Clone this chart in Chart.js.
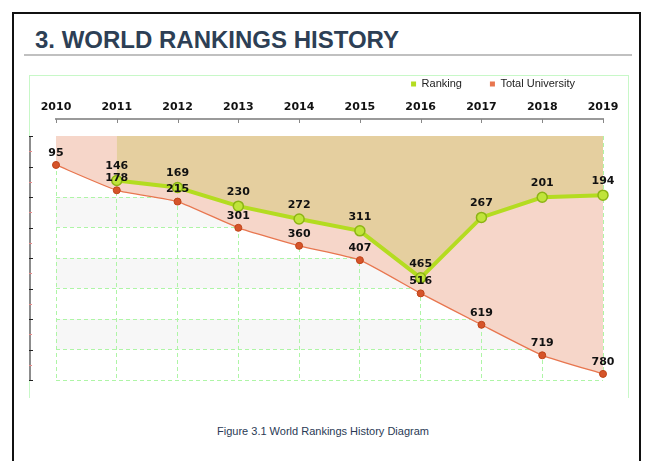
<!DOCTYPE html>
<html><head><meta charset="utf-8">
<script src="https://cdn.jsdelivr.net/npm/chart.js@4.4.1/dist/chart.umd.min.js"></script>
<style>
html,body{margin:0;padding:0;background:#fff;width:646px;height:461px;overflow:hidden;font-family:"Liberation Sans",Arial,sans-serif;}
#page{position:absolute;left:12px;top:12px;width:625px;height:480px;border:2px solid #111;}
#title{position:absolute;left:35px;top:28px;font:bold 24px/24px "Liberation Sans",Arial,sans-serif;color:#2d3f55;white-space:nowrap;}
#rule{position:absolute;left:24px;top:54px;width:608px;height:2px;background:#c0c0c0;}
#box{position:absolute;left:29px;top:75px;width:598px;height:322px;border:1px solid #c8f8c8;border-bottom:none;}
#box canvas{position:absolute;left:-2px;top:0;}
#caption{position:absolute;left:0;width:646px;top:424px;text-align:center;font:11px/14px "Liberation Sans",Arial,sans-serif;color:#2a3a55;}
</style>
</head><body>
<div id="page"></div>
<div id="title">3. WORLD RANKINGS HISTORY</div>
<div id="rule"></div>
<div id="box"><canvas id="c" width="600" height="322"></canvas></div>
<div id="caption">Figure 3.1 World Rankings History Diagram</div>
<script>
const years = ['2010','2011','2012','2013','2014','2015','2016','2017','2018','2019'];
const ranking = [null,146,169,230,272,311,465,267,201,194];
const totalUniversity = [95,178,215,301,360,407,516,619,719,780];
const yTicks = [0,100,200,300,400,500,600,700,800];

const gridGreen = '#aef5a6';
const labelFont = 'bold 11px "DejaVu Sans", sans-serif';

const bandsPlugin = {
  id: 'bands',
  beforeDraw(chart) {
    const {ctx, chartArea} = chart;
    const y = chart.scales.y;
    ctx.save();
    ctx.fillStyle = '#f7f7f7';
    for (let i = 0; i < yTicks.length - 1; i += 2) {
      const y1 = y.getPixelForValue(yTicks[i]);
      const y2 = y.getPixelForValue(yTicks[i + 1]);
      ctx.fillRect(chartArea.left, Math.min(y1, y2), chartArea.right - chartArea.left, Math.abs(y2 - y1));
    }
    ctx.restore();
  }
};

const axesPlugin = {
  id: 'axesDraw',
  afterDatasetsDraw(chart) {
    const {ctx, chartArea} = chart;
    const x = chart.scales.x, y = chart.scales.y;
    ctx.save();
    // top axis line
    const ay = chartArea.top - 17;
    const x0 = x.getPixelForValue(0), x1 = x.getPixelForValue(years.length - 1);
    ctx.strokeStyle = '#9a9a9a';
    ctx.lineWidth = 2;
    ctx.beginPath();
    ctx.moveTo(x0 - 1, ay); ctx.lineTo(x1 + 1, ay);
    ctx.stroke();
    ctx.lineWidth = 1;
    ctx.strokeStyle = '#888';
    years.forEach((_, i) => {
      const px = Math.round(x.getPixelForValue(i)) + 0.5;
      ctx.beginPath(); ctx.moveTo(px, ay); ctx.lineTo(px, ay + 4); ctx.stroke();
    });
    // left axis line
    const lx = chartArea.left - 26;
    const yTop = y.getPixelForValue(yTicks[0]);
    const yBot = y.getPixelForValue(yTicks[yTicks.length - 1]);
    ctx.strokeStyle = '#8c8c8c';
    ctx.lineWidth = 2;
    ctx.beginPath(); ctx.moveTo(lx, yTop); ctx.lineTo(lx, yBot); ctx.stroke();
    ctx.lineWidth = 1;
    yTicks.forEach((v, i) => {
      const py = Math.round(y.getPixelForValue(v)) + 0.5;
      ctx.strokeStyle = '#222';
      ctx.beginPath(); ctx.moveTo(lx - 1, py); ctx.lineTo(lx + 3, py); ctx.stroke();
      if (i < yTicks.length - 1) {
        const pm = Math.round(y.getPixelForValue(v + 50)) + 0.5;
        ctx.strokeStyle = '#e98a8a';
        ctx.beginPath(); ctx.moveTo(lx - 1, pm); ctx.lineTo(lx + 2, pm); ctx.stroke();
      }
    });
    ctx.restore();
  }
};

const labelsPlugin = {
  id: 'pointLabels',
  afterDatasetsDraw(chart) {
    const {ctx} = chart;
    ctx.save();
    ctx.font = labelFont;
    ctx.fillStyle = '#111';
    ctx.textAlign = 'center';
    ctx.textBaseline = 'middle';
    chart.data.datasets.forEach((ds, di) => {
      const meta = chart.getDatasetMeta(di);
      meta.data.forEach((el, i) => {
        const v = ds.data[i];
        if (v === null || v === undefined) return;
        ctx.fillText(String(v), el.x, el.y - (di === 0 ? 14 : 12));
      });
    });
    ctx.restore();
  }
};

new Chart(document.getElementById('c'), {
  type: 'line',
  data: {
    labels: years,
    datasets: [
      {
        label: 'Ranking',
        data: ranking,
        borderColor: '#b4dc20',
        borderWidth: 4,
        backgroundColor: '#e5cf9f',
        fill: {value: 0},
        tension: 0,
        pointRadius: 5,
        pointBackgroundColor: '#c0e43a',
        pointBorderColor: '#8cb414',
        pointBorderWidth: 1.5,
        legendColor: '#b4dc20'
      },
      {
        label: 'Total University',
        data: totalUniversity,
        borderColor: '#e8764f',
        borderWidth: 1.3,
        backgroundColor: '#f6d6c9',
        fill: {value: 0},
        tension: 0.15,
        pointRadius: 3.5,
        pointBackgroundColor: '#d6542a',
        pointBorderColor: '#bf4418',
        pointBorderWidth: 1,
        legendColor: '#e8764f'
      }
    ]
  },
  options: {
    responsive: false,
    animation: false,
    layout: {padding: {left: 28, right: 25, top: -25.5, bottom: 18}},
    plugins: {
      tooltip: {enabled: false},
      legend: {
        position: 'top',
        align: 'end',
        labels: {
          boxWidth: 5, boxHeight: 5, padding: 28,
          color: '#222',
          font: {family: '"Liberation Sans", Arial, sans-serif', size: 11},
          generateLabels(chart) {
            return chart.data.datasets.map((ds, i) => ({
              text: ds.label, fillStyle: ds.legendColor, strokeStyle: ds.legendColor,
              lineWidth: 0, hidden: false, datasetIndex: i, fontColor: '#222'
            }));
          }
        }
      }
    },
    scales: {
      x: {
        position: 'top',
        offset: false,
        grid: {color: gridGreen, drawTicks: false, lineWidth: 1},
        border: {display: false, dash: [4, 3]},
        ticks: {color: '#111', font: {family: '"DejaVu Sans", sans-serif', size: 11, weight: 'bold'}, padding: 22, maxRotation: 0},
        afterFit(scale) { scale.height = 36.5; scale.paddingLeft = 0; scale.paddingRight = 0; }
      },
      y: {
        reverse: true,
        min: 0, max: 800,
        afterBuildTicks(scale) { scale.ticks = yTicks.map(v => ({value: v})); },
        grid: {color: gridGreen, drawTicks: false, lineWidth: 1},
        border: {display: false, dash: [4, 3]},
        ticks: {display: false},
        afterFit(scale) { scale.width = 0; }
      }
    }
  },
  plugins: [bandsPlugin, axesPlugin, labelsPlugin]
});
</script>
</body></html>
